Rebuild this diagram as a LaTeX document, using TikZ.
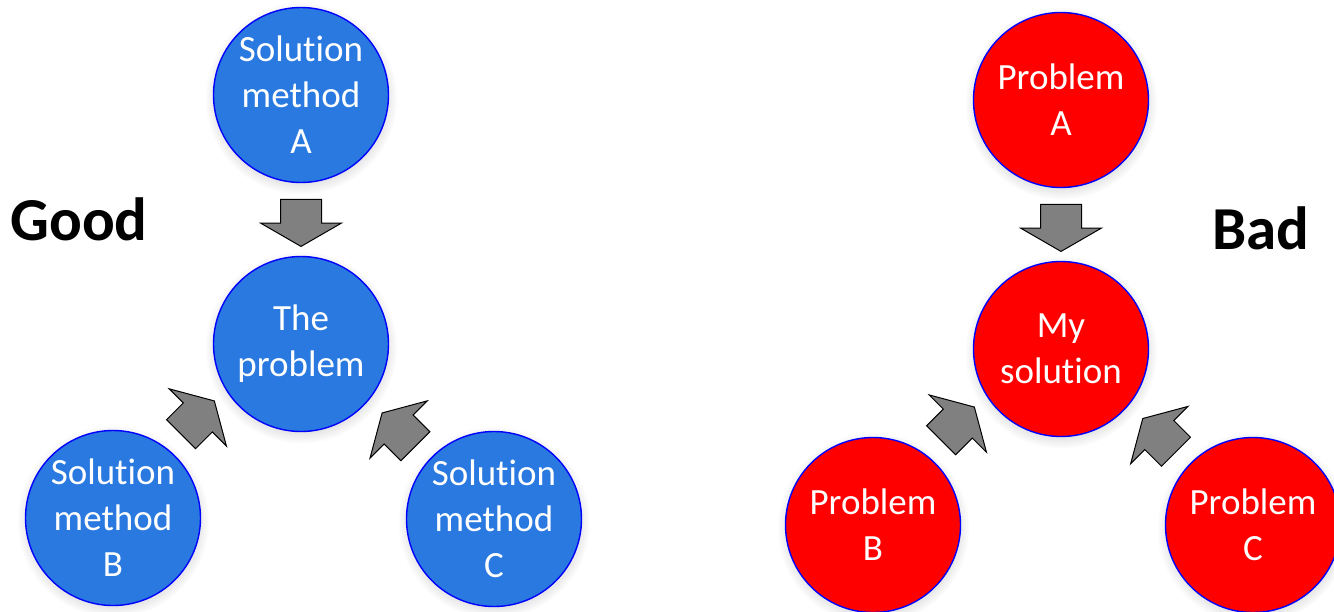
\documentclass[tikz,border=0pt]{standalone}
\usepackage{fontspec}
\setmainfont[Ligatures=NoCommon]{Carlito}
\usepackage{tikz}
\usetikzlibrary{shapes.arrows,calc,shadows}
\definecolor{goodblue}{HTML}{2979E0}
\definecolor{badred}{HTML}{FF0000}
\definecolor{rim}{HTML}{0000FF}
\definecolor{arrowgray}{HTML}{808080}

\begin{document}
\begin{tikzpicture}[
    x=1pt,y=-1pt,
    ball/.style={circle,draw=rim,line width=1.4pt,minimum size=175pt,inner sep=0pt,align=center,text=white,
      font=\fontsize{37}{46}\selectfont,
      circular drop shadow={shadow xshift=0pt,shadow yshift=-3pt,opacity=.25}},
    goodball/.style={ball,fill=goodblue},
    badball/.style={ball,fill=badred},
    fatarrow/.style={single arrow,draw=black,fill=arrowgray,line width=1pt,minimum height=47pt,
      inner xsep=0pt,inner ysep=20pt,single arrow head extend=20pt,single arrow tip angle=120},
    verdict/.style={font=\fontsize{61}{73}\selectfont\bfseries,anchor=base}
  ]
  \useasboundingbox (0,0) rectangle (1334,611);
  \clip (0,0) rectangle (1334,611);

  % good side
  \node[goodball] (solA) at (301,95)  {Solution\\method\\A};
  \node[goodball] (prob) at (301,344) {The\\problem};
  \node[goodball] (solB) at (113,518) {Solution\\method\\B};
  \node[goodball] (solC) at (494,519) {Solution\\method\\C};
  \node[verdict] (good) at (79,240) {Good};

  \node[fatarrow,rotate=-90] (arrA) at ($(solA)!.49!(prob)$) {};
  \node[fatarrow,rotate=45]  (arrB) at ($(solB)!.447!(prob)+(-3.5,-18.5)$) {};
  \node[fatarrow,rotate=135] (arrC) at ($(solC)!.49!(prob)+(3.5,.5)$) {};

  % bad side
  \node[badball] (probA) at (1061,100) {Problem\\A};
  \node[badball] (mysol) at (1061,349) {My\\solution};
  \node[badball] (probB) at (873,525)  {Problem\\B};
  \node[badball] (probC) at (1253,525) {Problem\\C};
  \node[verdict] (bad) at (1261,249) {Bad};

  \node[fatarrow,rotate=-90] (arrPA) at ($(probA)!.49!(mysol)$) {};
  \node[fatarrow,rotate=45]  (arrPB) at ($(probB)!.447!(mysol)+(-3.5,-18.5)$) {};
  \node[fatarrow,rotate=135] (arrPC) at ($(probC)!.484!(mysol)+(3.5,-.5)$) {};
\end{tikzpicture}
\end{document}
